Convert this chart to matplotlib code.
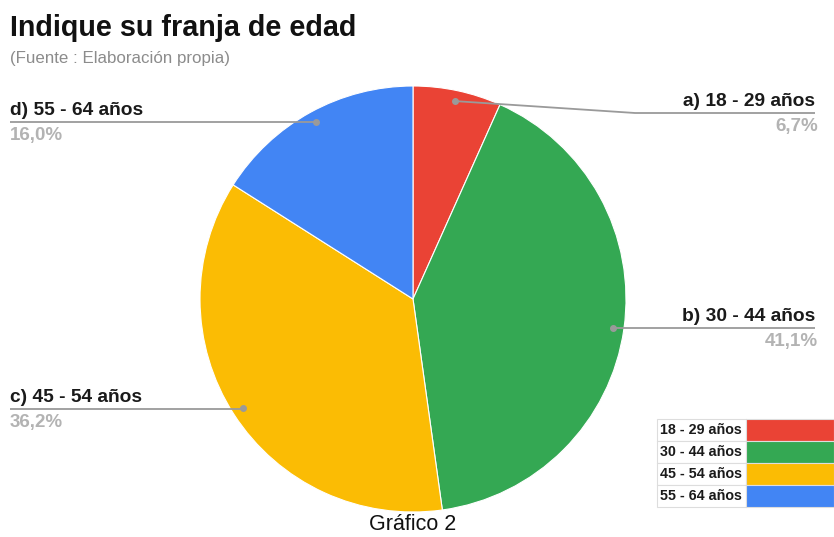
import matplotlib.pyplot as plt
import numpy as np
from matplotlib.patches import Rectangle

plt.rcParams['font.family'] = ['Liberation Sans', 'DejaVu Sans']

categorias = ["18 - 29 años", "30 - 44 años", "45 - 54 años", "55 - 64 años"]
etiquetas = ["a) 18 - 29 años", "b) 30 - 44 años", "c) 45 - 54 años", "d) 55 - 64 años"]
valores = [6.7, 41.1, 36.2, 16.0]
colores = ["#EA4335", "#34A853", "#FBBC04", "#4285F4"]

W, H = 834, 537
fig = plt.figure(figsize=(W / 100, H / 100), dpi=100)
ax = fig.add_axes([0, 0, 1, 1])

cx, cy, R = 413, H - 299, 213
ax.pie(valores, colors=colores, startangle=90, counterclock=False,
       center=(cx, cy), radius=R, frame=True,
       wedgeprops=dict(linewidth=0.8, edgecolor='white'))
ax.set_xlim(0, W)
ax.set_ylim(0, H)
ax.set_aspect('equal')
ax.axis('off')

# puntos de las guias (en el medio de cada porcion)
total = sum(valores)
acum = np.cumsum([0] + valores[:-1])
medios = (acum + np.array(valores) / 2) / total * 2 * np.pi
px = cx + 0.95 * R * np.sin(medios)
py = cy + 0.95 * R * np.cos(medios)

# y de la linea horizontal (pixeles desde arriba) y lado
lineas_y = [113, 328, 409, 122]
lado = ['r', 'r', 'l', 'l']
gris = '#9a9a9a'
gris_pct = '#b3b3b3'

for i in range(4):
    ly = H - lineas_y[i]
    pct = f"{valores[i]:.1f}%".replace('.', ',')
    if lado[i] == 'r':
        if abs(py[i] - ly) > 3:
            xs = [px[i], 635, 815]
            ys = [py[i], ly, ly]
        else:
            xs = [px[i], 815]
            ys = [ly, ly]
        ax.plot(xs, ys, color=gris, lw=1.3, solid_capstyle='butt')
        ax.text(815, ly + 7, etiquetas[i], ha='right', va='baseline',
                fontsize=13.8, fontweight='bold', color='#1a1a1a')
        ax.text(818, ly - 5, pct, ha='right', va='top',
                fontsize=13.5, fontweight='bold', color=gris_pct)
    else:
        ax.plot([10, px[i]], [ly, ly], color=gris, lw=1.3, solid_capstyle='butt')
        ax.text(10, ly + 7, etiquetas[i], ha='left', va='baseline',
                fontsize=13.8, fontweight='bold', color='#1a1a1a')
        ax.text(10, ly - 5, pct, ha='left', va='top',
                fontsize=13.5, fontweight='bold', color=gris_pct)
    ax.plot(px[i], py[i], 'o', color=gris, ms=4)

# titulo y fuente
ax.text(10, H - 36, "Indique su franja de edad", ha='left', va='baseline',
        fontsize=20.7, fontweight='bold', color='#111111')
ax.text(10, H - 59, "(Fuente : Elaboración propia)", ha='left', va='center',
        fontsize=12.2, color='#8c8c8c')

# leyenda tipo tabla
top, alto = 419, 22
for i, cat in enumerate(categorias):
    y0 = H - (top + (i + 1) * alto)
    ax.add_patch(Rectangle((657, y0), 89, alto, facecolor='white', edgecolor='#dddddd', lw=0.8))
    ax.add_patch(Rectangle((746, y0), 88, alto, facecolor=colores[i], edgecolor='#dddddd', lw=0.8))
    ax.text(660, y0 + alto / 2, cat, ha='left', va='center',
            fontsize=10.3, fontweight='bold', color='#1a1a1a')

ax.text(cx, H - 525, "Gráfico 2", ha='center', va='center', fontsize=15.5, color='#111111')

fig.savefig("out.png", dpi=100)
